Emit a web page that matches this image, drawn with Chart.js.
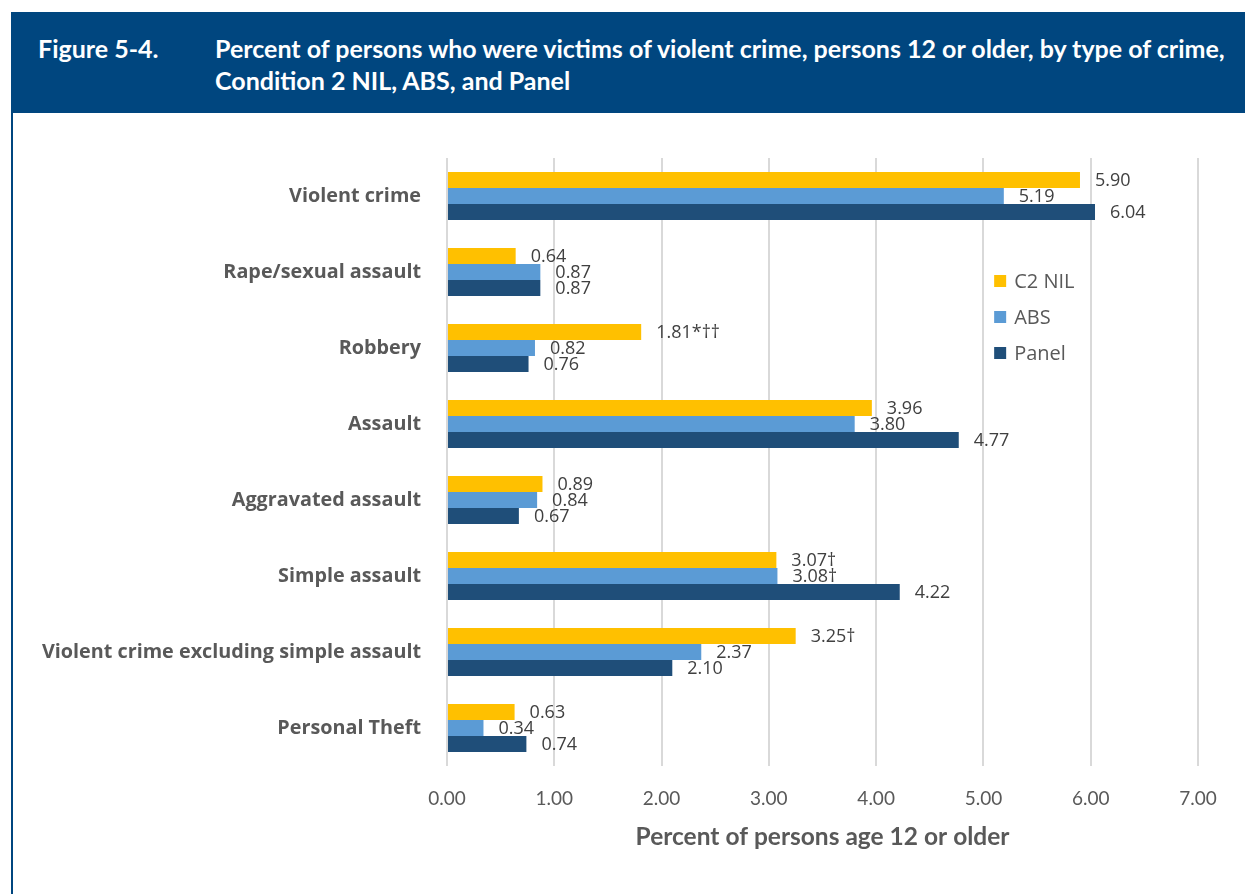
<!DOCTYPE html>
<html>
<head>
<meta charset="utf-8">
<script src="https://cdn.jsdelivr.net/npm/chart.js@4"></script>
<style>
  html, body { margin: 0; padding: 0; background: #fff; }
  body { width: 1245px; height: 894px; position: relative; overflow: hidden; }
  #header {
    position: absolute; left: 11px; top: 12px; width: 1234px; height: 101px;
    background: #00467f; color: #fff;
    font-family: Lato, "Liberation Sans", sans-serif; font-weight: bold; font-size: 25px;
    line-height: 32px;
  }
  #header .num { position: absolute; left: 27px; top: 20px; }
  #header .txt { position: absolute; left: 204px; top: 20px; width: 1030px; white-space: nowrap; }
  #frame { position: absolute; left: 11px; top: 12px; width: 2px; height: 882px; background: #00467f; }
  #chartWrap { position: absolute; left: 13px; top: 113px; width: 1232px; height: 781px; }
</style>
</head>
<body>
<div id="frame"></div>
<div id="header">
  <div class="num">Figure 5-4.</div>
  <div class="txt">Percent of persons who were victims of violent crime, persons 12 or older, by type of crime,<br>Condition 2 NIL, ABS, and Panel</div>
</div>
<div id="chartWrap"><canvas id="chart" width="1232" height="781"></canvas></div>
<script>
// Crime categories, top to bottom
const categories = [
  'Violent crime',
  'Rape/sexual assault',
  'Robbery',
  'Assault',
  'Aggravated assault',
  'Simple assault',
  'Violent crime excluding simple assault',
  'Personal Theft'
];

// Percent of persons age 12 or older, by condition
const c2nil = [5.90, 0.64, 1.81, 3.96, 0.89, 3.07, 3.25, 0.63];
const abs   = [5.19, 0.87, 0.82, 3.80, 0.84, 3.08, 2.37, 0.34];
const panel = [6.04, 0.87, 0.76, 4.77, 0.67, 4.22, 2.10, 0.74];

// Significance markers appended to the value labels
const c2nilNotes = ['', '', '*\u2020\u2020', '', '', '\u2020', '\u2020', ''];
const absNotes   = ['', '', '', '', '', '\u2020', '', ''];
const panelNotes = ['', '', '', '', '', '', '', ''];

// X-axis ticks
const xTicks = [0, 1, 2, 3, 4, 5, 6, 7];

const series = [
  { label: 'C2 NIL', data: c2nil, notes: c2nilNotes, color: '#ffc000' },
  { label: 'ABS',    data: abs,   notes: absNotes,   color: '#5b9bd5' },
  { label: 'Panel',  data: panel, notes: panelNotes, color: '#1f4e79' }
];

// Value labels to the right of each bar
const valueLabels = {
  id: 'valueLabels',
  afterDatasetsDraw(chart) {
    const ctx = chart.ctx;
    ctx.save();
    ctx.font = '18px "Open Sans", sans-serif';
    ctx.fillStyle = '#404040';
    ctx.textAlign = 'left';
    ctx.textBaseline = 'middle';
    chart.data.datasets.forEach((ds, di) => {
      const meta = chart.getDatasetMeta(di);
      meta.data.forEach((bar, i) => {
        const txt = ds.data[i].toFixed(2) + (ds.notes[i] || '');
        ctx.fillText(txt, bar.x + 15, bar.y + 1);
      });
    });
    ctx.restore();
  }
};

// Legend placed inside the plot area
const innerLegend = {
  id: 'innerLegend',
  afterDraw(chart) {
    const ctx = chart.ctx;
    const xs = chart.scales.x;
    const x0 = xs.getPixelForValue(5.1);
    const top = chart.chartArea.top + 123;
    ctx.save();
    ctx.font = '20px "Open Sans", sans-serif';
    ctx.textAlign = 'left';
    ctx.textBaseline = 'middle';
    chart.data.datasets.forEach((ds, i) => {
      const y = top + i * 36;
      ctx.fillStyle = ds.backgroundColor;
      ctx.fillRect(x0, y - 6, 12, 12);
      ctx.fillStyle = '#595959';
      ctx.fillText(ds.label, x0 + 20, y + 1);
    });
    ctx.restore();
  }
};

new Chart(document.getElementById('chart'), {
  type: 'bar',
  data: {
    labels: categories,
    datasets: series.map(s => ({
      label: s.label,
      data: s.data,
      notes: s.notes,
      backgroundColor: s.color,
      borderWidth: 0,
      categoryPercentage: 0.63,
      barPercentage: 1.0
    }))
  },
  options: {
    indexAxis: 'y',
    responsive: false,
    animation: false,
    devicePixelRatio: 1,
    layout: { padding: { left: 0, top: 45, right: 47, bottom: 28 } },
    plugins: { legend: { display: false }, tooltip: { enabled: false } },
    scales: {
      x: {
        min: 0, max: 7,
        afterBuildTicks(scale) { scale.ticks = xTicks.map(v => ({ value: v })); },
        afterFit(scale) { scale.height = 100; },
        grid: { color: '#d9d9d9', lineWidth: 2, drawTicks: false },
        border: { display: false },
        ticks: {
          padding: 21,
          color: '#595959',
          font: { family: 'Lato', size: 19 },
          callback: v => Number(v).toFixed(2)
        },
        title: {
          display: true,
          text: 'Percent of persons age 12 or older',
          color: '#595959',
          font: { family: 'Lato', size: 24.5, weight: 'bold' },
          padding: { top: 0, bottom: 14 }
        }
      },
      y: {
        afterFit(scale) { scale.width = 434; },
        grid: { display: false },
        border: { display: false },
        ticks: {
          padding: 18,
          color: '#595959',
          font: { family: '"Open Sans"', size: 19.8, weight: 'bold' }
        }
      }
    }
  },
  plugins: [valueLabels, innerLegend]
});
</script>
</body>
</html>
